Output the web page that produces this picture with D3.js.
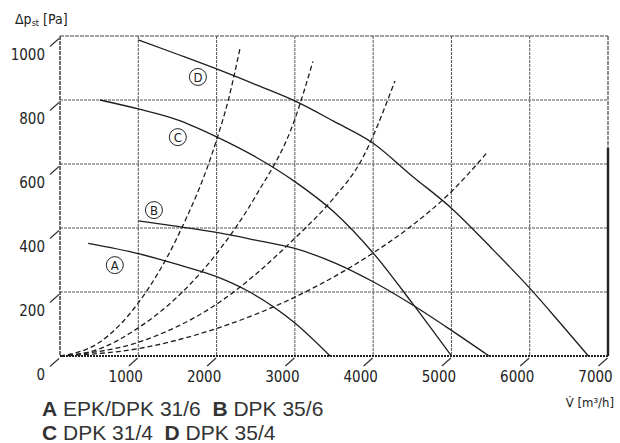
<!DOCTYPE html>
<html>
<head>
<meta charset="utf-8">
<script src="https://cdn.jsdelivr.net/npm/d3@7"></script>
<style>
  body { margin: 0; background: #fff; }
  svg { display: block; }
  .tick text { font-family: 'DejaVu Sans Condensed', 'DejaVu Sans', sans-serif; font-stretch: condensed; font-size: 15px; fill: #222; }
  .lbl { font-family: 'DejaVu Sans Condensed', 'DejaVu Sans', sans-serif; font-stretch: condensed; fill: #222; }
  .legend { font-family: 'Liberation Sans', Arial, sans-serif; font-size: 21px; fill: #333; }
</style>
</head>
<body>
<svg id="chart" width="620" height="443"></svg>
<script>
const x_ticks = [1000, 2000, 3000, 4000, 5000, 6000, 7000];
const y_ticks = [0, 200, 400, 600, 800, 1000];

// fan curves, [V m3/h, dp Pa]
const fan_A = [[360, 352], [1000, 320], [1500, 286], [2000, 248], [2400, 203], [3000, 103], [3450, 0]];
const fan_B = [[1000, 422], [1500, 405], [2000, 386], [2500, 362], [3000, 336], [3500, 292], [4000, 232], [4500, 160], [5000, 80], [5480, 0]];
const fan_C = [[510, 800], [1000, 772], [1500, 738], [2000, 685], [2500, 622], [3000, 545], [3500, 450], [4000, 322], [4500, 165], [5000, 0]];
const fan_D = [[1000, 988], [1500, 943], [2000, 897], [2500, 848], [3000, 797], [3500, 733], [4000, 665], [4500, 562], [5000, 462], [5500, 340], [6000, 212], [6400, 100], [6750, 0]];

// system curves (dashed)
const sys_1 = [[0, 0], [500, 42], [1000, 166], [1500, 372], [2000, 675], [2150, 800], [2300, 962]];
const sys_2 = [[0, 0], [500, 22], [1000, 88], [1500, 185], [2000, 320], [2500, 500], [3000, 740], [3230, 920]];
const sys_3 = [[0, 0], [1000, 43], [2000, 162], [3000, 368], [3500, 495], [3830, 603], [4280, 860]];
const sys_4 = [[0, 0], [1000, 23], [2000, 86], [3000, 184], [4000, 322], [4470, 403], [4980, 509], [5450, 634]];

const curve_names = ['A', 'B', 'C', 'D'];
const curve_marks = [[700, 284], [1200, 456], [1505, 684], [1762, 872]];
const legend_lines = [
  [['A', ' EPK/DPK 31/6  '], ['B', ' DPK 35/6']],
  [['C', ' DPK 31/4  '], ['D', ' DPK 35/4']]
];

const svg = d3.select('#chart');
const x = d3.scaleLinear().domain([0, 7000]).range([60, 608]);
const y = d3.scaleLinear().domain([0, 1000]).range([356, 36]);

// grid
const grid = svg.append('g').attr('stroke', '#555').attr('stroke-width', 1).attr('stroke-dasharray', '3,1');
grid.selectAll('.vg')
  .data(x_ticks.slice(0, -1))
  .enter()
  .append('line')
  .attr('x1', d => x(d)).attr('x2', d => x(d))
  .attr('y1', y(1000)).attr('y2', y(0));
grid.selectAll('.hg')
  .data(y_ticks.slice(1, -1))
  .enter()
  .append('line')
  .attr('x1', x(0)).attr('x2', x(7000))
  .attr('y1', d => y(d)).attr('y2', d => y(d));

// frame
svg.append('line').attr('x1', x(0)).attr('x2', x(7000)).attr('y1', y(1000)).attr('y2', y(1000))
  .attr('stroke', '#444').attr('stroke-width', 1.2).attr('stroke-dasharray', '4,1');
svg.append('line').attr('x1', x(0)).attr('x2', x(0)).attr('y1', y(1000)).attr('y2', y(0))
  .attr('stroke', '#333').attr('stroke-width', 1.4).attr('stroke-dasharray', '4,1');
svg.append('line').attr('x1', x(7000)).attr('x2', x(7000)).attr('y1', y(1000)).attr('y2', y(0))
  .attr('stroke', '#444').attr('stroke-width', 1.2).attr('stroke-dasharray', '4,1');
svg.append('line').attr('x1', x(7000)).attr('x2', x(7000)).attr('y1', y(650)).attr('y2', y(0))
  .attr('stroke', '#222').attr('stroke-width', 2.4);
svg.append('line').attr('x1', x(0)).attr('x2', x(7000)).attr('y1', y(0)).attr('y2', y(0))
  .attr('stroke', '#222').attr('stroke-width', 2.2).attr('stroke-dasharray', '2,1');

// axes with slanted leaders
const x_axis = svg.append('g')
  .attr('transform', `translate(0,${y(0)})`)
  .call(d3.axisBottom(x).tickValues(x_ticks).tickFormat(d3.format('d')).tickSizeOuter(0));
const y_axis = svg.append('g')
  .attr('transform', `translate(${x(0)},0)`)
  .call(d3.axisLeft(y).tickValues(y_ticks).tickFormat(d3.format('d')).tickSizeOuter(0));
svg.selectAll('.domain').remove();
x_axis.selectAll('.tick line')
  .attr('x1', -10).attr('y1', 10).attr('x2', -1).attr('y2', 2)
  .attr('stroke', '#333').attr('stroke-width', 1.2);
x_axis.selectAll('.tick text')
  .attr('x', -13).attr('y', 21).attr('dy', '0.35em');
y_axis.selectAll('.tick line')
  .attr('x1', -10).attr('y1', 10).attr('x2', -1).attr('y2', 2)
  .attr('stroke', '#333').attr('stroke-width', 1.2);
y_axis.selectAll('.tick text')
  .attr('x', -15).attr('y', 18).attr('dy', '0.35em');

// curves
const line = d3.line().x(d => x(d[0])).y(d => y(d[1])).curve(d3.curveMonotoneX);
svg.selectAll('.fan')
  .data([fan_A, fan_B, fan_C, fan_D])
  .enter()
  .append('path')
  .attr('d', line)
  .attr('fill', 'none').attr('stroke', '#1e1e1e').attr('stroke-width', 1.3);
svg.selectAll('.sys')
  .data([sys_1, sys_2, sys_3, sys_4])
  .enter()
  .append('path')
  .attr('d', line)
  .attr('fill', 'none').attr('stroke', '#1e1e1e').attr('stroke-width', 1.3)
  .attr('stroke-dasharray', '5,3');

// circled letters
const marks = svg.selectAll('.mark')
  .data(curve_names)
  .enter()
  .append('g')
  .attr('transform', (d, i) => `translate(${x(curve_marks[i][0])},${y(curve_marks[i][1])})`);
marks.append('circle').attr('r', 8.5).attr('fill', '#fff').attr('stroke', '#222').attr('stroke-width', 1);
marks.append('text').attr('class', 'lbl').attr('text-anchor', 'middle').attr('dy', '0.37em')
  .style('font-size', '13px').text(d => d);

// axis titles
const yt = svg.append('text').attr('class', 'lbl').attr('x', 15).attr('y', 24).style('font-size', '14px');
yt.append('tspan').text('Δp');
yt.append('tspan').attr('dy', 2).style('font-size', '9px').text('st');
yt.append('tspan').attr('dy', -2).text(' [Pa]');
svg.append('text').attr('class', 'lbl').attr('x', 614).attr('y', 407).attr('text-anchor', 'end')
  .style('font-size', '13px').text('V̇ [m³/h]');

// legend
legend_lines.forEach((row, i) => {
  const t = svg.append('text').attr('class', 'legend').attr('x', 42).attr('y', 416 + i * 24)
    .attr('xml:space', 'preserve');
  row.forEach(p => {
    t.append('tspan').attr('font-weight', 'bold').text(p[0]);
    t.append('tspan').text(p[1]);
  });
});
</script>
</body>
</html>
